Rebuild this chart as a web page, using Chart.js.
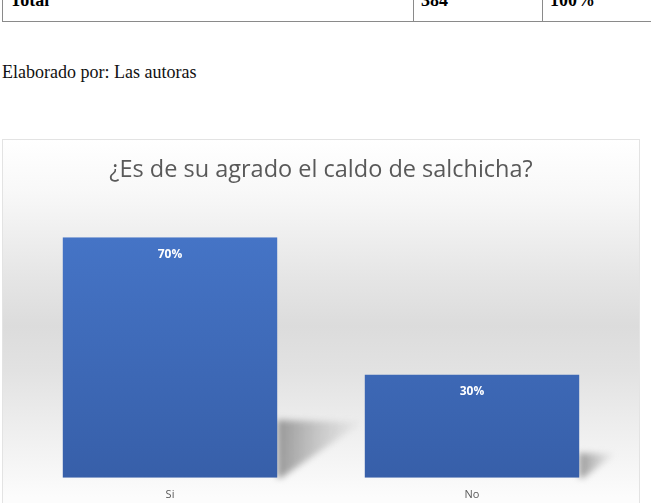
<!DOCTYPE html>
<html>
<head>
<meta charset="utf-8">
<script src="https://cdn.jsdelivr.net/npm/chart.js@4/dist/chart.umd.min.js"></script>
<style>
  body { margin: 0; background: #fff; width: 651px; height: 503px; overflow: hidden; position: relative; }
  #tabla { position: absolute; left: 2px; top: -21px; width: 760px; border-collapse: collapse; font-family: "Liberation Serif", "DejaVu Serif", serif; font-size: 18px; font-weight: bold; table-layout: fixed; }
  #tabla td { border: 1.5px solid #8a8a8a; height: 41px; padding: 0 0 0 7px; vertical-align: middle; }
  #nota { position: absolute; left: 2px; top: 62px; font-family: "Liberation Serif", serif; font-size: 18px; color: #111; }
  #caja { position: absolute; left: 2px; top: 139px; width: 636px; height: 372px; border: 1px solid #e3e3e3;
    background: linear-gradient(to bottom, #ffffff 0%, #f8f8f8 14%, #e6e6e6 36%, #dcdcdc 50%, #e2e2e2 62%, #f0f0f0 80%, #fcfcfc 96%); }
</style>
</head>
<body>
<table id="tabla">
  <colgroup><col style="width:411px"><col style="width:129px"><col style="width:220px"></colgroup>
  <tr><td>Total</td><td>384</td><td>100%</td></tr>
</table>
<div id="nota">Elaborado por: Las autoras</div>
<div id="caja"><canvas id="grafico"></canvas></div>
<script>
// datos
const categorias = ['Si', 'No'];
const porcentajes = [70, 30];
const titulo = '¿Es de su agrado el caldo de salchicha?';

// sombra en el "piso" a la derecha de cada barra
const sombraPlugin = {
  id: 'sombra',
  beforeDatasetsDraw(chart) {
    const ctx = chart.ctx;
    chart.getDatasetMeta(0).data.forEach(bar => {
      const h = bar.base - bar.y;
      const right = bar.x + bar.width / 2;
      const g = ctx.createLinearGradient(right, 0, right + h * 0.35, 0);
      g.addColorStop(0, 'rgba(120,120,120,0.75)');
      g.addColorStop(1, 'rgba(160,160,160,0.05)');
      ctx.save();
      ctx.filter = 'blur(3px)';
      ctx.fillStyle = g;
      ctx.beginPath();
      ctx.moveTo(right, bar.base - h * 0.24);
      ctx.lineTo(right + h * 0.35, bar.base - h * 0.23);
      ctx.lineTo(right + 4, bar.base);
      ctx.lineTo(right, bar.base);
      ctx.closePath();
      ctx.fill();
      ctx.restore();
    });
  }
};

// etiquetas de datos dentro de la barra
const etiquetasPlugin = {
  id: 'etiquetas',
  afterDatasetsDraw(chart) {
    const ctx = chart.ctx;
    ctx.save();
    ctx.font = 'bold 12px "Open Sans", sans-serif';
    ctx.fillStyle = '#ffffff';
    ctx.textAlign = 'center';
    ctx.textBaseline = 'middle';
    chart.getDatasetMeta(0).data.forEach((bar, i) => {
      ctx.fillText(porcentajes[i] + '%', bar.x, bar.y + 17);
    });
    ctx.restore();
  }
};

function colorBarra(context) {
  const area = context.chart.chartArea;
  if (!area) return '#4070bf';
  const g = context.chart.ctx.createLinearGradient(0, area.top, 0, area.bottom);
  g.addColorStop(0, '#4574c6');
  g.addColorStop(1, '#375fa9');
  return g;
}

new Chart(document.getElementById('grafico'), {
  type: 'bar',
  data: {
    labels: categorias,
    datasets: [{
      data: porcentajes,
      backgroundColor: colorBarra,
      borderWidth: 0,
      categoryPercentage: 0.71,
      barPercentage: 1.0
    }]
  },
  options: {
    responsive: true,
    maintainAspectRatio: false,
    animation: false,
    layout: { padding: { left: 16, right: 16, top: 0, bottom: 9 } },
    plugins: {
      legend: { display: false },
      tooltip: { enabled: false },
      title: {
        display: true,
        text: titulo,
        color: '#595959',
        font: { family: '"Open Sans", sans-serif', size: 23.5, weight: 'normal' },
        padding: { top: 16, bottom: 53 }
      }
    },
    scales: {
      y: { display: false, min: 0, max: 70 },
      x: {
        grid: { display: false },
        border: { display: false },
        ticks: { color: '#595959', font: { family: '"Open Sans", sans-serif', size: 11 }, padding: 2 }
      }
    }
  },
  plugins: [sombraPlugin, etiquetasPlugin]
});
</script>
</body>
</html>
